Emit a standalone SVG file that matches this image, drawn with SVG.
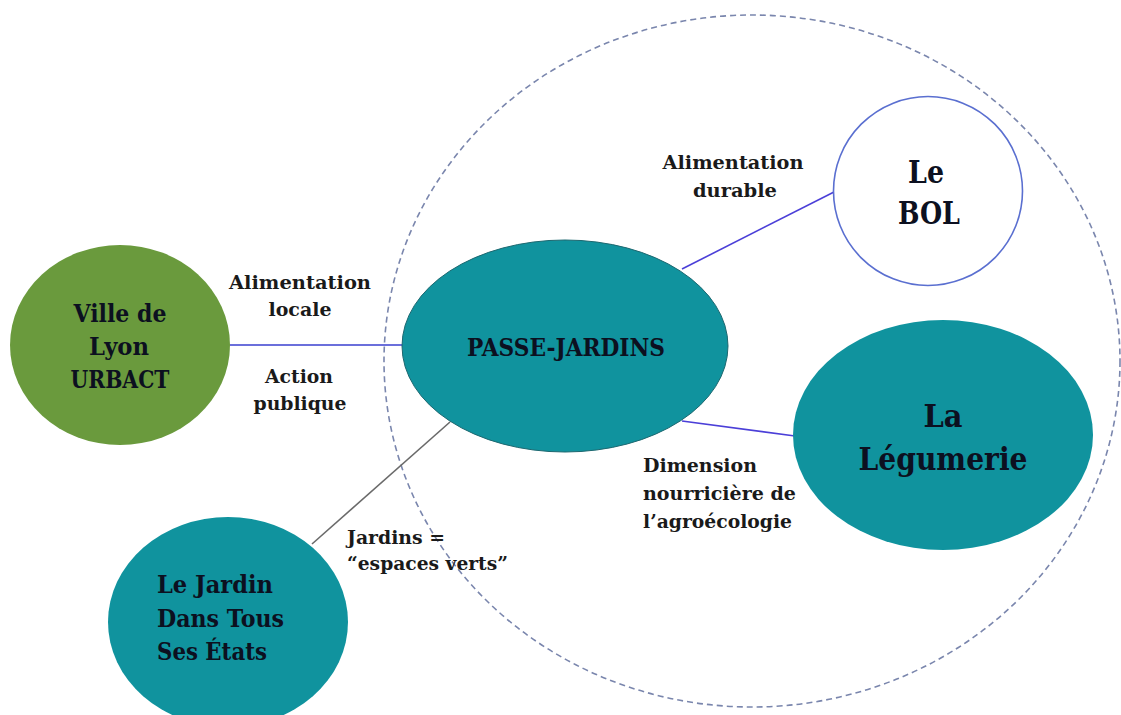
<svg xmlns="http://www.w3.org/2000/svg" width="1121" height="715" viewBox="0 0 1121 715">
<style>
.lbl{font-family:"DejaVu Serif","Liberation Serif",serif;font-size:19px;font-weight:bold;fill:#1a1a1a;}
.nd{font-family:"DejaVu Serif","Liberation Serif",serif;font-weight:bold;fill:#0c1020;}
.teal{fill:#10939e;}
.conn{fill:none;stroke-width:1.6;}
</style>
<rect width="1121" height="715" fill="#ffffff"/>
<g id="boundary">
<ellipse cx="752" cy="361" rx="368" ry="346" fill="none" stroke="#7a86ad" stroke-width="1.6" stroke-dasharray="6 4"/>
</g>
<g id="connectors">
<line class="conn" x1="230" y1="345" x2="403" y2="345" stroke="#3a3fcf"/>
<line class="conn" x1="682" y1="269" x2="834" y2="192" stroke="#4b3fd8"/>
<line class="conn" x1="682" y1="421" x2="795" y2="436" stroke="#4b3fd8"/>
<line class="conn" x1="450" y1="422" x2="312" y2="544" stroke="#6a6a6a"/>
</g>
<g id="edge-labels">
<text class="lbl" x="300" y="289" text-anchor="middle" textLength="142" lengthAdjust="spacingAndGlyphs">Alimentation</text>
<text class="lbl" x="300" y="316" text-anchor="middle" textLength="63" lengthAdjust="spacingAndGlyphs">locale</text>
<text class="lbl" x="299" y="383" text-anchor="middle" textLength="68" lengthAdjust="spacingAndGlyphs">Action</text>
<text class="lbl" x="300" y="410" text-anchor="middle" textLength="93" lengthAdjust="spacingAndGlyphs">publique</text>
<text class="lbl" x="733" y="169" text-anchor="middle" textLength="141" lengthAdjust="spacingAndGlyphs">Alimentation</text>
<text class="lbl" x="735" y="197" text-anchor="middle" textLength="84" lengthAdjust="spacingAndGlyphs">durable</text>
<text class="lbl" x="643" y="472" textLength="114" lengthAdjust="spacingAndGlyphs">Dimension</text>
<text class="lbl" x="643" y="500" textLength="153" lengthAdjust="spacingAndGlyphs">nourricière de</text>
<text class="lbl" x="643" y="528" textLength="149" lengthAdjust="spacingAndGlyphs">l’agroécologie</text>
<text class="lbl" x="347" y="544" textLength="98" lengthAdjust="spacingAndGlyphs">Jardins =</text>
<text class="lbl" x="347" y="570" textLength="161" lengthAdjust="spacingAndGlyphs">“espaces verts”</text>
</g>
<g id="node-ville">
<ellipse cx="120" cy="345" rx="110" ry="100" fill="#6a9a3d"/>
<text class="nd" font-size="24" x="120" y="322" text-anchor="middle" textLength="93" lengthAdjust="spacingAndGlyphs">Ville de</text>
<text class="nd" font-size="24" x="119" y="355" text-anchor="middle" textLength="60" lengthAdjust="spacingAndGlyphs">Lyon</text>
<text class="nd" font-size="24" x="120" y="388" text-anchor="middle" textLength="99" lengthAdjust="spacingAndGlyphs">URBACT</text>
</g>
<g id="node-passe-jardins">
<ellipse cx="565" cy="346" rx="163" ry="106" class="teal" stroke="#1d6870" stroke-width="1"/>
<text class="nd" font-size="24" x="566" y="356" text-anchor="middle" textLength="198" lengthAdjust="spacingAndGlyphs">PASSE-JARDINS</text>
</g>
<g id="node-bol">
<circle cx="928" cy="191" r="94.5" fill="#ffffff" stroke="#5a6fd0" stroke-width="1.6"/>
<text class="nd" font-size="31" x="926" y="183" text-anchor="middle" textLength="36" lengthAdjust="spacingAndGlyphs">Le</text>
<text class="nd" font-size="31" x="929" y="224" text-anchor="middle" textLength="62" lengthAdjust="spacingAndGlyphs">BOL</text>
</g>
<g id="node-legumerie">
<ellipse cx="943" cy="435" rx="150" ry="115" class="teal"/>
<text class="nd" font-size="31" x="943" y="427" text-anchor="middle" textLength="39" lengthAdjust="spacingAndGlyphs">La</text>
<text class="nd" font-size="31" x="943" y="470" text-anchor="middle" textLength="169" lengthAdjust="spacingAndGlyphs">Légumerie</text>
</g>
<g id="node-jardin">
<ellipse cx="228" cy="622" rx="120" ry="105" class="teal"/>
<text class="nd" font-size="24" x="157" y="593" textLength="116" lengthAdjust="spacingAndGlyphs">Le Jardin</text>
<text class="nd" font-size="24" x="157" y="627" textLength="127" lengthAdjust="spacingAndGlyphs">Dans Tous</text>
<text class="nd" font-size="24" x="157" y="660" textLength="110" lengthAdjust="spacingAndGlyphs">Ses États</text>
</g>
</svg>
